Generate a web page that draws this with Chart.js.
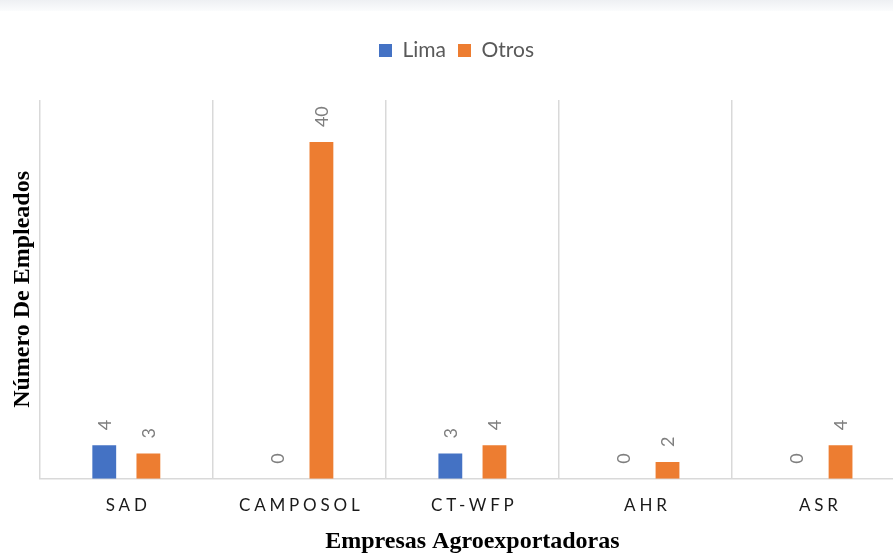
<!DOCTYPE html>
<html>
<head>
<meta charset="utf-8">
<script src="https://cdn.jsdelivr.net/npm/chart.js@4.4.0/dist/chart.umd.min.js"></script>
<style>
	html, body { margin: 0; padding: 0; background: #fff; overflow: hidden; }
	#wrap { position: relative; width: 893px; height: 553px; overflow: hidden; }
	#band { position: absolute; left: 0; top: 0; width: 893px; height: 11px;
		background: linear-gradient(to bottom, #eef0f3, #fbfcfd); }
	#chart { position: absolute; left: 0; top: 0; }
</style>
</head>
<body>
<div id="wrap">
	<div id="band"></div>
	<canvas id="chart" width="920" height="553"></canvas>
</div>
<script>
var empresas = ['SAD', 'CAMPOSOL', 'CT-WFP', 'AHR', 'ASR'];
var lima = [4, 0, 3, 0, 0];
var otros = [3, 40, 4, 2, 4];

/* Bigger gap under the legend */
var legendGap = {
	id: 'legendGap',
	beforeInit: function (chart) {
		var fit = chart.legend.fit;
		chart.legend.fit = function () {
			fit.bind(chart.legend)();
			this.height += 29;
		};
	}
};

/* Rotated value labels above every bar */
var valueLabels = {
	id: 'valueLabels',
	afterDatasetsDraw: function (chart) {
		var ctx = chart.ctx;
		ctx.save();
		ctx.font = '18px Lato';
		ctx.fillStyle = '#7f7f7f';
		ctx.textAlign = 'left';
		ctx.textBaseline = 'middle';
		chart.data.datasets.forEach(function (ds, i) {
			chart.getDatasetMeta(i).data.forEach(function (bar, j) {
				ctx.save();
				ctx.translate(bar.x + 1, bar.y - 15);
				ctx.rotate(-Math.PI / 2);
				ctx.fillText(String(ds.data[j]), 0, 0);
				ctx.restore();
			});
		});
		ctx.restore();
	}
};

/* Category labels with letter spacing */
var spacedTicks = {
	id: 'spacedTicks',
	afterDraw: function (chart) {
		var ctx = chart.ctx;
		var scale = chart.scales.x;
		var spacing = 3.8;
		ctx.save();
		ctx.font = '17px Lato';
		ctx.fillStyle = '#1a1a1a';
		ctx.textAlign = 'left';
		ctx.textBaseline = 'middle';
		ctx.letterSpacing = spacing + 'px';
		empresas.forEach(function (name, i) {
			var w = ctx.measureText(name).width - spacing;
			ctx.fillText(name, scale.getPixelForValue(i) - w / 2, 506);
		});
		ctx.restore();
	}
};

new Chart(document.getElementById('chart'), {
	type: 'bar',
	data: {
		labels: empresas,
		datasets: [{
			label: 'Lima',
			data: lima,
			backgroundColor: '#4472c4'
		}, {
			label: 'Otros',
			data: otros,
			backgroundColor: '#ed7d31'
		}]
	},
	options: {
		responsive: false,
		animation: false,
		categoryPercentage: 0.51,
		barPercentage: 0.54,
		layout: { padding: { top: 28, left: 8, right: 15, bottom: 0 } },
		plugins: {
			legend: {
				position: 'top',
				labels: {
					font: { family: 'Lato', size: 21 },
					color: '#595959',
					boxWidth: 13,
					boxHeight: 13,
					padding: 12
				}
			},
			tooltip: { enabled: false }
		},
		scales: {
			x: {
				grid: { display: true, offset: true, color: '#d9d9d9', lineWidth: 1.5, drawTicks: false },
				border: { display: true, color: '#d9d9d9', width: 1.5 },
				ticks: { color: 'transparent', font: { family: 'Lato', size: 17 }, padding: 8 },
				title: {
					display: true,
					text: 'Empresas Agroexportadoras',
					font: { family: 'Liberation Serif', size: 24, weight: 'bold' },
					color: '#000',
					padding: { top: 12, bottom: -3 }
				}
			},
			y: {
				min: 0,
				max: 45,
				grid: { display: false, drawTicks: false },
				border: { display: false },
				ticks: { display: false },
				title: {
					display: true,
					text: 'Número De Empleados',
					font: { family: 'Liberation Serif', size: 24, weight: 'bold' },
					color: '#000',
					padding: { top: 0, bottom: 3 }
				}
			}
		}
	},
	plugins: [legendGap, valueLabels, spacedTicks]
});
</script>
</body>
</html>
